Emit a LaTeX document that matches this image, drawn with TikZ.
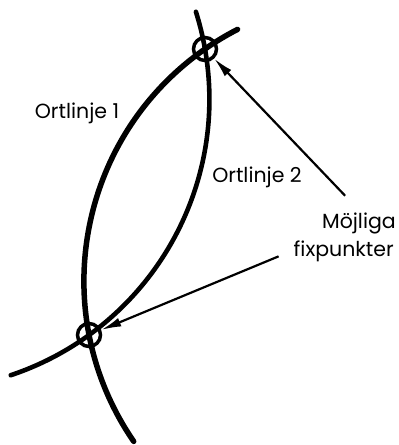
\documentclass[tikz,border=0pt]{standalone}
\usepackage{fontspec}
\setmainfont{Poppins}
\usetikzlibrary{arrows.meta, positioning}

\begin{document}
\begin{tikzpicture}[x=1pt, y=1pt,
    locus/.style={line width=#1, line cap=round},
    fixpt/.style={circle, draw, line width=3.5pt, minimum size=23pt, inner sep=0pt},
    pointer/.style={-{Latex[length=20pt, width=9pt]}, line width=2.2pt},
    lbl/.style={font=\fontsize{20.5}{25}\selectfont, inner sep=2pt}
]
\useasboundingbox (0,0) rectangle (399,445);
\coordinate (p) at (205,396);
\coordinate (q) at (89,110);
% ortlinje 1
\draw[locus=5.5pt] (p) arc[start angle=124.9, end angle=117.2, radius=283];
\draw[locus=5.5pt] (p) arc[start angle=124.9, end angle=214.5, radius=283];
% ortlinje 2
\draw[locus=4.6pt] (p) arc[start angle=9.95, end angle=17.5, radius=291];
\draw[locus=4.6pt] (p) arc[start angle=9.95, end angle=-71.5, radius=291];
\node[fixpt] (topfix) at (p) {};
\node[fixpt] (lowfix) at (q) {};
\node[lbl] (ort1) at (77,332) {Ortlinje 1};
\node[lbl] (ort2) at (257,268) {Ortlinje 2};
\node[lbl, anchor=east] (moj) at (398,222) {Möjliga};
\node[lbl, anchor=east] (fixp) at (396,194) {fixpunkter};
\draw[pointer, shorten <=20pt] (moj.north) -- (topfix);
\draw[pointer, shorten <=14pt] (fixp.west) -- (lowfix);
\end{tikzpicture}
\end{document}
